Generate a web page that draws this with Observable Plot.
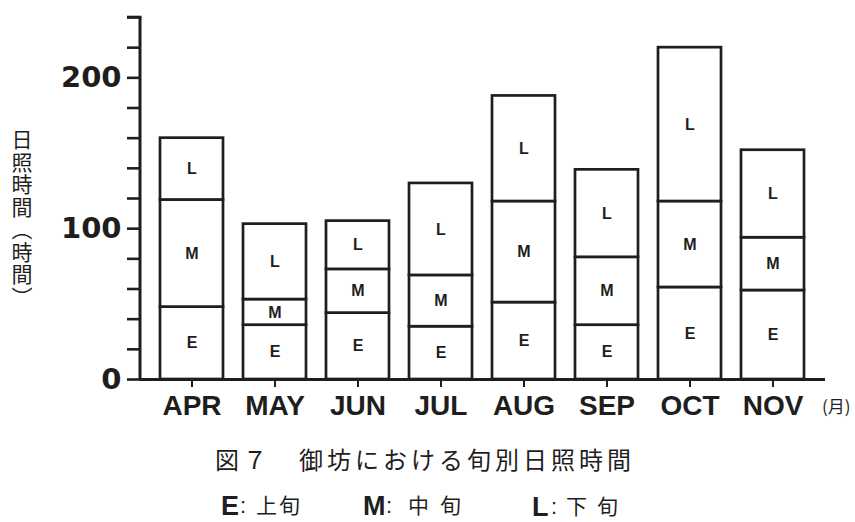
<!DOCTYPE html>
<html>
<head>
<meta charset="utf-8">
<script src="https://cdn.jsdelivr.net/npm/d3@7"></script>
<script src="https://cdn.jsdelivr.net/npm/@observablehq/plot@0.6"></script>
<style>
  body { margin: 0; background: white; }
  #wrap { position: relative; width: 855px; height: 522px; background: white; overflow: hidden; }
  #chart { position: absolute; left: 0; top: 0; }
  .abs { position: absolute; white-space: nowrap; color: #1e1e1e; }
  .cjk { font-family: "Noto Sans CJK JP", sans-serif; }
  .lat { font-family: "Liberation Sans", Arial, sans-serif; font-weight: bold; }
  .col { font-family: "Liberation Sans", Arial, sans-serif; font-size: 22px; line-height: 22px; }
</style>
</head>
<body>
<div id="wrap">
  <div id="chart"></div>
  <div class="abs cjk" style="left:11px;top:129px;font-size:21px;line-height:21px;writing-mode:vertical-rl;letter-spacing:1.5px;">日照時間（時間）</div>
  <div class="abs cjk" style="left:822px;top:397px;font-size:17px;line-height:17px;">(月)</div>
  <div class="abs cjk" style="left:215px;top:447px;font-size:24px;line-height:24px;letter-spacing:4px;">図７　御坊における旬別日照時間</div>

  <div class="abs lat" style="left:221px;top:493px;font-size:27px;line-height:27px;">E</div>
  <div class="abs col" style="left:240px;top:495px;">:</div>
  <div class="abs cjk" style="left:256px;top:494px;font-size:21px;line-height:21px;letter-spacing:2px;">上旬</div>

  <div class="abs lat" style="left:363px;top:493px;font-size:27px;line-height:27px;">M</div>
  <div class="abs col" style="left:386px;top:495px;">:</div>
  <div class="abs cjk" style="left:408px;top:494px;font-size:21px;line-height:21px;letter-spacing:11px;">中旬</div>

  <div class="abs lat" style="left:532px;top:494px;font-size:27px;line-height:27px;">L</div>
  <div class="abs col" style="left:551px;top:496px;">:</div>
  <div class="abs cjk" style="left:566px;top:495px;font-size:21px;line-height:21px;letter-spacing:10px;">下旬</div>
</div>
<script>
const months = ["APR", "MAY", "JUN", "JUL", "AUG", "SEP", "OCT", "NOV"];
const segments = ["E", "M", "L"];
const early  = [48, 36, 44, 35, 51, 36, 61, 59];   // E: 上旬
const middle = [71, 17, 29, 34, 67, 45, 57, 35];   // M: 中旬
const late   = [41, 50, 32, 61, 70, 58, 102, 58];  // L: 下旬
const yTicks = [0, 20, 40, 60, 80, 100, 120, 140, 160, 180, 200, 220, 240];
const yLabels = [0, 100, 200];

const series = [early, middle, late];
const data = [];
months.forEach((m, i) => {
  segments.forEach((s, j) => data.push({month: m, seg: s, value: series[j][i]}));
});

const ink = "#1e1e1e";

const chart = Plot.plot({
  width: 855,
  height: 430,
  marginLeft: 140,
  marginRight: 30,
  marginTop: 17,
  marginBottom: 51,
  style: {background: "white", color: ink, fontFamily: "Liberation Sans, Arial, sans-serif"},
  x: {domain: months, padding: 0.24, label: null},
  y: {domain: [0, 240], label: null},
  marks: [
    Plot.barY(data, Plot.stackY({
      x: "month", y: "value", z: "seg",
      fill: "white", stroke: ink, strokeWidth: 2.7
    })),
    Plot.text(data, Plot.stackY({
      x: "month", y: "value", z: "seg", text: "seg",
      fill: ink, fontSize: 16, fontWeight: "bold", fontFamily: "Liberation Sans, Arial, sans-serif"
    })),
    Plot.ruleY([0], {stroke: ink, strokeWidth: 3}),
    Plot.axisY({
      ticks: yTicks,
      tickFormat: d => yLabels.includes(d) ? String(d) : "",
      tickSize: 13, tickPadding: 6, strokeWidth: 2.6, stroke: ink,
      fontSize: 29, fontWeight: "bold", fontFamily: "DejaVu Sans, sans-serif",
      fill: ink, label: null
    }),
    Plot.axisX({
      tickSize: 8, tickPadding: 8, strokeWidth: 2, stroke: ink,
      fontSize: 28, fontWeight: "bold", fontFamily: "Liberation Sans, Arial, sans-serif",
      fill: ink, label: null
    })
  ]
});

document.getElementById("chart").appendChild(chart);

// vertical y-axis line drawn with the chart's own scales
const ys = chart.scale("y");
const xs = chart.scale("x");
const x0 = xs.range[0];
d3.select(chart).append("line")
  .attr("x1", x0).attr("x2", x0)
  .attr("y1", ys.apply(0) + 1.5).attr("y2", ys.apply(240))
  .attr("stroke", ink).attr("stroke-width", 3);
d3.select(chart).append("line")
  .attr("x1", x0 - 13).attr("x2", x0 + 1.5)
  .attr("y1", ys.apply(240)).attr("y2", ys.apply(240))
  .attr("stroke", ink).attr("stroke-width", 2.6);
</script>
</body>
</html>
